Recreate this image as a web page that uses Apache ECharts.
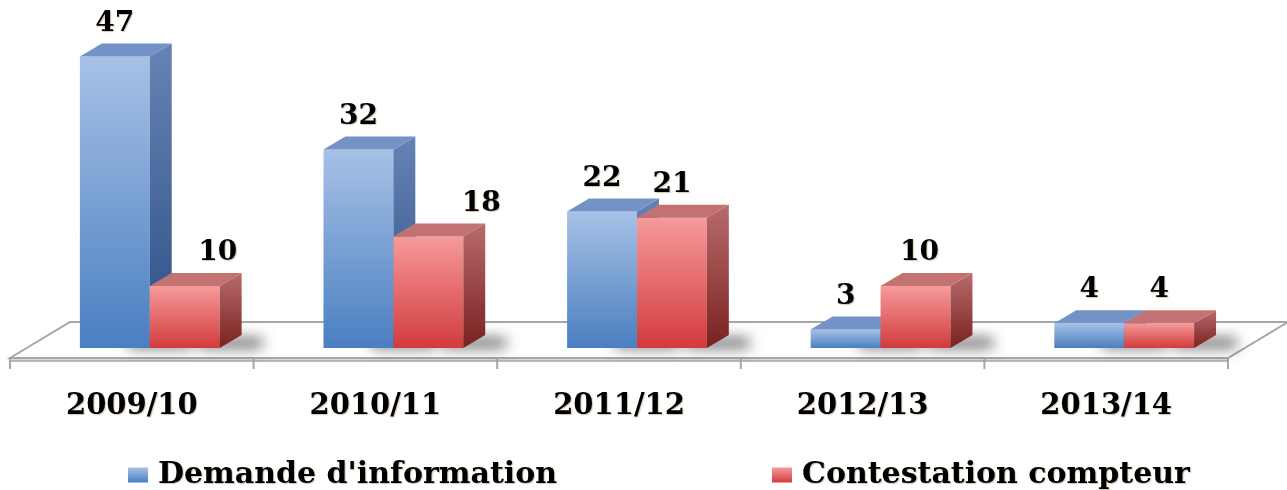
<!DOCTYPE html>
<html><head><meta charset="utf-8">
<script src="https://cdn.jsdelivr.net/npm/echarts@6.0.0/dist/echarts.min.js"></script>
<style>html,body{margin:0;padding:0;background:#fff}#c{width:1287px;height:490px}</style>
</head><body><div id="c"></div>
<script>
// ---- data ----
const categories = ['2009/10', '2010/11', '2011/12', '2012/13', '2013/14'];
const seriesNames = ["Demande d'information", 'Contestation compteur'];
const demandeInfo = [47, 32, 22, 3, 4];
const contestation = [10, 18, 21, 10, 4];
const yMax = 50;

// ---- layout / style settings ----
const labelNudge = [[0, 0, 0, 0, 0], [33, 53, 0, 4, 0]];
const BAR_FRAC = 0.287, DEPTH_FRAC = 0.09, DEPTH_DY = -13;
const FLOOR_INSET_X = 18, FLOOR_INSET_Y = 10, FLOOR_DX = 60, FLOOR_DY = -36;
const FONT = '"DejaVu Serif", "Liberation Serif", serif';
const TXT_SHADOW = {textShadowColor: 'rgba(110,70,0,0.3)', textShadowBlur: 1, textShadowOffsetX: 1, textShadowOffsetY: 1};

function vgrad(a, b) {
  return new echarts.graphic.LinearGradient(0, 0, 0, 1, [{offset: 0, color: a}, {offset: 1, color: b}]);
}
const PAL = [
  {front: ['#a7c1e6', '#4a7fc1'], side: ['#6783b5', '#2c4f86'], top: '#7392c6', legend: ['#a7c1e6', '#4a7fc1']},
  {front: ['#f69a9b', '#d23b3c'], side: ['#b86b6b', '#7a2121'], top: '#c37272', legend: ['#f69a9b', '#d23b3c']}
];

function makeBarRender(si) {
  return function (params, api) {
    const ci = api.value(0), v = api.value(1);
    const base = api.coord([ci, 0]);
    const top = api.coord([ci, v]);
    const bw = api.size([1, 0])[0];
    const w = bw * BAR_FRAC;
    const dx = bw * DEPTH_FRAC, dy = DEPTH_DY;
    const x0 = si === 0 ? base[0] - w : base[0];
    const x1 = x0 + w;
    const yb = base[1], yt = top[1];
    const p = PAL[si];
    return {
      type: 'group',
      children: [
        // hidden caster (covered by the front face) whose blurred shadow falls on the floor
        {type: 'rect', silent: true, shape: {x: x0 + 3, y: yb - 11, width: w - 6, height: 10},
          style: {fill: '#8c8c8c', shadowBlur: 14, shadowColor: 'rgba(0,0,0,0.6)', shadowOffsetX: w * 0.65, shadowOffsetY: 1}},
        {type: 'rect', shape: {x: x0, y: yt, width: w, height: yb - yt}, style: {fill: vgrad(p.front[0], p.front[1])}},
        {type: 'polygon', shape: {points: [[x1, yt], [x1 + dx, yt + dy], [x1 + dx, yb + dy], [x1, yb]]}, style: {fill: vgrad(p.side[0], p.side[1])}},
        {type: 'polygon', shape: {points: [[x0, yt], [x0 + dx, yt + dy], [x1 + dx, yt + dy], [x1, yt]]}, style: {fill: p.top}},
        {type: 'text', style: Object.assign({text: String(v), x: (x0 + x1) / 2 + labelNudge[si][ci], y: yt + dy - 6,
          align: 'center', verticalAlign: 'bottom', fontFamily: FONT, fontWeight: 'bold', fontSize: 28, fill: '#000'}, TXT_SHADOW)}
      ]
    };
  };
}

function renderFloor(params, api) {
  const n = categories.length;
  const c0 = api.coord([0, 0]);
  const bw = api.size([1, 0])[0];
  const flx = c0[0] - bw / 2 - FLOOR_INSET_X, fy = c0[1] + FLOOR_INSET_Y;
  const frx = flx + n * bw;
  const children = [
    {type: 'rect', shape: {x: flx, y: fy, width: frx - flx, height: 3}, style: {fill: '#d9d9d9', stroke: '#a6a6a6', lineWidth: 1.5}},
    {type: 'polygon', shape: {points: [[flx, fy], [flx + FLOOR_DX, fy + FLOOR_DY], [frx + FLOOR_DX, fy + FLOOR_DY], [frx, fy]]},
      style: {fill: '#ffffff', stroke: '#a6a6a6', lineWidth: 2}}
  ];
  for (let k = 0; k <= n; k++) {
    const x = flx + k * bw;
    children.push({type: 'line', shape: {x1: x, y1: fy, x2: x, y2: fy + 11}, style: {stroke: '#a6a6a6', lineWidth: 2}});
  }
  return {type: 'group', children};
}

const legendText = Object.assign({fontFamily: FONT, fontWeight: 'bold', fontSize: 30, color: '#000', lineHeight: 30, padding: [0, 0, 0, 5]}, TXT_SHADOW);

const chart = echarts.init(document.getElementById('c'));
chart.setOption({
  animation: false,
  backgroundColor: '#ffffff',
  grid: {left: 28, right: 41, top: 38, bottom: 142},
  xAxis: {
    type: 'category', data: categories, boundaryGap: true,
    axisLine: {show: false}, axisTick: {show: false}, splitLine: {show: false},
    axisLabel: Object.assign({margin: 44, fontFamily: FONT, fontWeight: 'bold', fontSize: 29, color: '#000', padding: [0, 36, 0, 0], interval: 0}, TXT_SHADOW)
  },
  yAxis: {type: 'value', min: 0, max: yMax, show: false, splitLine: {show: false}},
  legend: [
    {data: [{name: seriesNames[0], itemStyle: {color: vgrad(PAL[0].legend[0], PAL[0].legend[1])}}],
      left: 128, top: 460, padding: 0, icon: 'rect', itemWidth: 20, itemHeight: 15, selectedMode: false, textStyle: legendText},
    {data: [{name: seriesNames[1], itemStyle: {color: vgrad(PAL[1].legend[0], PAL[1].legend[1])}}],
      left: 772, top: 460, padding: 0, icon: 'rect', itemWidth: 20, itemHeight: 15, selectedMode: false, textStyle: legendText}
  ],
  series: [
    {type: 'custom', name: 'floor', silent: true, z: 1, data: [[0, 0]], renderItem: renderFloor},
    {type: 'custom', name: seriesNames[0], z: 2, itemStyle: {color: '#4a7fc1'},
      data: demandeInfo.map((v, i) => [i, v]), renderItem: makeBarRender(0)},
    {type: 'custom', name: seriesNames[1], z: 3, itemStyle: {color: '#d23b3c'},
      data: contestation.map((v, i) => [i, v]), renderItem: makeBarRender(1)}
  ]
});
</script></body></html>
